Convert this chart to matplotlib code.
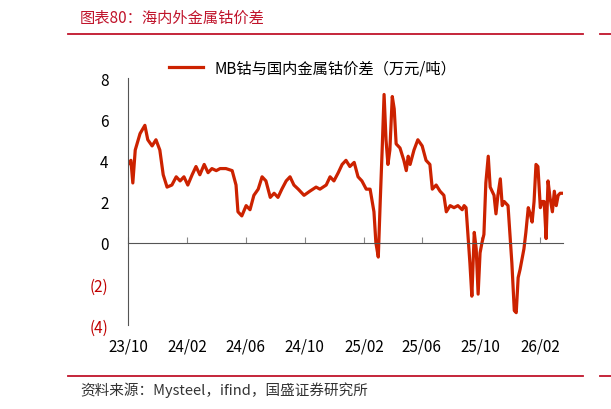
import datetime as dt
import matplotlib
matplotlib.use("Agg")
import matplotlib.pyplot as plt
import matplotlib.dates as mdates

plt.rcParams['font.family'] = ['Noto Sans CJK SC', 'DejaVu Sans']

# days since 2023-10-01, and the spread (万元/吨)
days = [0, 6, 10, 15, 25, 35, 41, 50, 58, 66, 73, 81, 91, 100, 108, 116, 124, 133, 141, 149,
        158, 166, 174, 183, 191, 203, 216, 224, 228, 236, 245, 253, 261, 270, 278, 286, 295,
        303, 311, 319, 328, 336, 344, 353, 365, 377, 390, 398, 411, 419, 427, 436, 444, 452,
        460, 469, 477, 485, 494, 502, 510, 514, 519, 523, 527, 531, 535, 539, 543, 548, 552,
        556, 564, 572, 577, 581, 585, 593, 601, 610, 618, 626, 631, 639, 647, 655, 660, 668,
        676, 684, 693, 697, 701, 709, 713, 718, 722, 726, 730, 734, 738, 742, 747, 751, 755,
        759, 763, 767, 772, 776, 780, 788, 792, 796, 801, 805, 809, 813, 821, 825, 830, 834,
        838, 842, 846, 850, 855, 859, 863, 867, 871, 875, 880, 884, 888, 892, 896, 902]
spread = [3.8, 4.0, 2.9, 4.5, 5.3, 5.7, 5.0, 4.7, 5.0, 4.5, 3.3, 2.7, 2.8, 3.2, 3.0, 3.2, 2.8,
          3.3, 3.7, 3.3, 3.8, 3.4, 3.6, 3.5, 3.6, 3.6, 3.5, 2.8, 1.5, 1.3, 1.8, 1.6, 2.3, 2.6,
          3.2, 3.0, 2.2, 2.4, 2.2, 2.6, 3.0, 3.2, 2.8, 2.6, 2.3, 2.5, 2.7, 2.6, 2.8, 3.2, 3.0,
          3.4, 3.8, 4.0, 3.7, 3.9, 3.2, 3.0, 2.6, 2.6, 1.5, 0.0, -0.7, 2.0, 4.5, 7.2, 5.0, 3.8,
          4.5, 7.1, 6.5, 4.8, 4.6, 4.0, 3.5, 4.2, 3.8, 4.5, 5.0, 4.7, 4.0, 3.8, 2.6, 2.8, 2.5,
          2.3, 1.5, 1.8, 1.7, 1.8, 1.6, 1.8, 1.7, -1.0, -2.6, 0.5, -0.3, -2.5, -0.5, 0.0, 0.4,
          2.9, 4.2, 2.7, 2.5, 2.3, 1.4, 2.3, 3.1, 1.8, 2.0, 1.8, 0.4, -1.0, -3.3, -3.4, -1.7,
          -1.3, -0.3, 0.5, 1.7, 1.4, 1.0, 2.0, 3.8, 3.7, 1.7, 2.0, 2.0, 0.2, 3.0, 2.2, 1.5, 2.5,
          1.8, 2.3, 2.4, 2.4]
tick_months = ['2023-10', '2024-02', '2024-06', '2024-10', '2025-02', '2025-06', '2025-10', '2026-02']
yticks = [-4, -2, 0, 2, 4, 6, 8]

start = dt.date(2023, 10, 1)
dates = [start + dt.timedelta(days=d) for d in days]

fig = plt.figure(figsize=(6.11, 4.10), dpi=100)
ax = fig.add_axes([128 / 611, 1 - 326 / 410, 435 / 611, 247 / 410])

ax.plot(dates, spread, color='#CC2200', lw=2.3, label='MB钴与国内金属钴价差（万元/吨）')

ax.set_ylim(-4, 8)
ax.set_xlim(start, start + dt.timedelta(days=902))
ax.set_yticks(yticks)
ax.set_yticklabels([f'({-v})' if v < 0 else str(v) for v in yticks], fontsize=11)
for lab, v in zip(ax.get_yticklabels(), yticks):
    if v < 0:
        lab.set_color('#C00000')
ax.tick_params(axis='y', length=0, pad=14)

ticks = [dt.datetime.strptime(m, '%Y-%m') for m in tick_months]
ax.set_xticks(ticks)
ax.xaxis.set_major_formatter(mdates.DateFormatter('%y/%m'))
ax.tick_params(axis='x', direction='in', length=4, color='#888888', pad=68, labelsize=11)

for s in ['top', 'right']:
    ax.spines[s].set_visible(False)
ax.spines['bottom'].set_position(('data', 0))
ax.spines['bottom'].set_color('#555555')
ax.spines['left'].set_color('#555555')

ax.legend(loc='lower left', bbox_to_anchor=(0.08, 0.98), frameon=False,
          fontsize=11, handlelength=2.2, borderaxespad=0)

red = '#C0142B'
fig.text(80 / 611, 1 - 18 / 410, '图表80：海内外金属钴价差', color=red, fontsize=11,
         style='italic', va='center')
fig.add_artist(plt.Line2D([68 / 611, 583 / 611], [1 - 35 / 410] * 2, color=red, lw=1.3))
fig.add_artist(plt.Line2D([600 / 611, 611 / 611], [1 - 35 / 410] * 2, color=red, lw=1.3))
fig.add_artist(plt.Line2D([68 / 611, 583 / 611], [1 - 377 / 410] * 2, color=red, lw=1.3))
fig.add_artist(plt.Line2D([600 / 611, 611 / 611], [1 - 377 / 410] * 2, color=red, lw=1.3))
fig.text(80 / 611, 1 - 390 / 410, '资料来源：Mysteel，ifind，国盛证券研究所', color='#333333',
         fontsize=10.5, style='italic', va='center')

fig.savefig('out.png', dpi=100)
